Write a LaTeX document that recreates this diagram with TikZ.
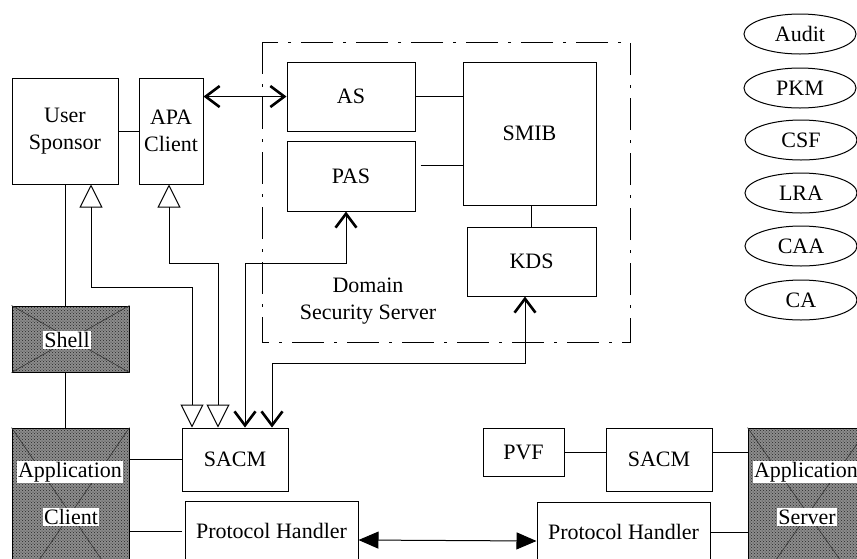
\documentclass[tikz,border=0pt]{standalone}
\usepackage{fontspec}
\setmainfont{Liberation Serif}
\usetikzlibrary{arrows.meta,shapes.geometric,patterns}
\begin{document}
\begin{tikzpicture}
  [x=1pt,y=-1pt,line width=1pt,font=\fontsize{22}{27}\selectfont,
   every node/.style={inner sep=0pt,align=center},
   blk/.style 2 args={draw,rectangle,minimum width=#1pt,minimum height=#2pt},
   hatch/.style={preaction={fill=black!45},pattern=crosshatch dots,pattern color=black!85},
   lbl/.style={fill=white,inner sep=1.5pt},
   oval/.style={draw,ellipse,minimum width=112pt,minimum height=40pt},
   tri/.style={{Triangle[open,length=23pt,width=23pt]}-{Triangle[open,length=23pt,width=23pt]}},
   barbs/.style={{Straight Barb[length=14pt,width=21pt,line width=2.6pt]}-{Straight Barb[length=14pt,width=21pt,line width=2.6pt]}},
   solid2/.style={{Triangle[length=20pt,width=17pt]}-{Triangle[length=20pt,width=17pt]}}]
  \clip (0,0) rectangle (857,558);

  % domain security server
  \draw[line width=0.9pt,dash pattern=on 32pt off 10pt on 3pt off 10pt] (262,42) rectangle (630,342);
  \node (as) at (351,96.5) [blk={128}{69}] {AS};
  \node (pas) at (351,176) [blk={128}{70}] {PAS};
  \node (smib) at (529.5,133.5) [blk={133}{143}] {SMIB};
  \node (kds) at (531.5,261.5) [blk={129}{69}] {KDS};
  \node (dss) at (368,301) {Domain\\Security Server};

  % client side
  \node (us) at (65,131) [blk={106}{106}] {User\\Sponsor};
  \node (apa) at (171,131) [blk={64}{106}] {APA\\Client};
  \node (shell) at (70.5,339) [blk={117}{66},hatch] {};
  \draw[black!80,line width=0.6pt] (shell.north west) -- (shell.south east)
        (shell.south west) -- (shell.north east);
  \node (shelltxt) at (67,340) [lbl] {Shell};
  \node (appc) at (70.5,514) [blk={117}{172},hatch] {};
  \draw[black!80,line width=0.6pt] (appc.north west) -- (appc.south east)
        (appc.south west) -- (appc.north east);
  \node (appctxt1) at (70,472) [lbl] {Application};
  \node (appctxt2) at (71,517) [lbl] {Client};
  \node (sacmc) at (235,459.5) [blk={106}{63}] {SACM};
  \node (phc) at (271.5,531) [blk={173}{60}] {Protocol Handler};

  % server side
  \node (pvf) at (523.5,452) [blk={81}{48}] {PVF};
  \node (sacms) at (659,459.5) [blk={106}{63}] {SACM};
  \node (phs) at (623.5,532) [blk={173}{60}] {Protocol Handler};
  \node (apps) at (808,514) [blk={120}{172},hatch] {};
  \draw[black!80,line width=0.6pt] (apps.north west) -- (apps.south east)
        (apps.south west) -- (apps.north east);
  \node (appstxt1) at (752,472) [lbl,anchor=west] {Application};
  \node (appstxt2) at (807,517) [lbl] {Server};

  % services
  \node (audit) at (800,34) [oval] {Audit};
  \node (pkm) at (800,88) [oval] {PKM};
  \node (csf) at (801,140) [oval] {CSF};
  \node (lra) at (801,193) [oval] {LRA};
  \node (caa) at (801,246) [oval] {CAA};
  \node (ca) at (801,300) [oval] {CA};

  \coordinate (u1) at (91,287);
  \coordinate (a1) at (169,263);
  \coordinate (p1) at (346,263);
  \coordinate (k1) at (525,363);

  \draw (us) -- (apa);
  \draw[barbs] (apa.east |- as) -- (as);
  \draw (as.east) -- (as -| smib.west);
  \draw ([shift={(5,-11)}]pas.east) coordinate (p2) -- (p2 -| smib.west);
  \draw (kds.north) -- (kds.north |- smib.south);
  \draw (us.south) -- (us.south |- shell.north);
  \draw (us.south |- shell.south) -- (us.south |- appc.north);
  \draw (sacmc.west) -- (sacmc.west -| appc.east);
  \draw (appc.east |- phc) -- ([xshift=-3pt]phc.west);
  \draw[solid2] ([yshift=-9pt]phc.east) -- ([yshift=-9pt]phs.west);
  \draw (pvf.east) -- (pvf -| sacms.west);
  \draw (sacms.east |- pvf) -- (pvf -| apps.west);
  \draw (phs.east) -- (phs -| apps.west);

  \draw[tri] (u1 |- us.south) -- (u1) -| ([xshift=-43pt]sacmc.north);
  \draw[tri] (a1 |- apa.south) -- (a1) -| ([xshift=-17pt]sacmc.north);
  \draw[barbs] ([xshift=10pt]sacmc.north) |- (p1) -- (p1 |- pas.south);
  \draw[barbs] ([xshift=37pt]sacmc.north) |- (k1) -- (k1 |- kds.south);
\end{tikzpicture}
\end{document}
